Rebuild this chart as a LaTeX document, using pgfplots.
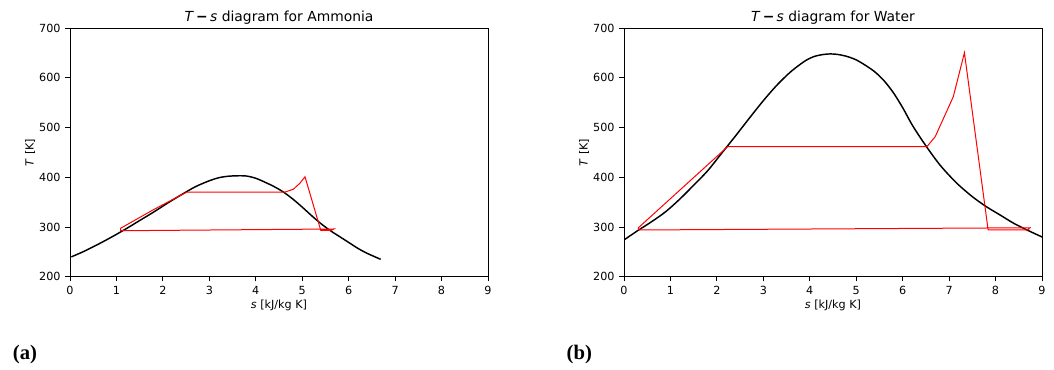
\documentclass[border=0pt]{standalone}
\usepackage{fontspec}
\setmainfont{DejaVu Sans}
\newfontfamily\capfont{Liberation Serif}
\usepackage{pgfplots}
\pgfplotsset{compat=1.18}
\pgfplotsset{ts/.style={
  scale only axis, width=313.5pt, height=186.5pt,
  xmin=0, xmax=9, ymin=200, ymax=700,
  xtick={0,1,...,9}, ytick={200,300,...,700},
  tick pos=left, tick align=outside, major tick length=3.5pt,
  /pgf/number format/assume math mode=true,
  ticklabel style={font=\fontsize{8.4}{9.5}\selectfont},
  xlabel style={font=\fontsize{8.4}{9.5}\selectfont, at={(axis description cs:0.5,-0.1137)}, anchor=center},
  ylabel style={font=\fontsize{8.4}{9.5}\selectfont, at={(axis description cs:-0.0957,0.5)}, anchor=center},
  title style={font=\fontsize{10.4}{12}\selectfont, at={(axis description cs:0.5,1.0504)}, anchor=center, yshift=-7.9pt},
  xlabel={\textit{s} [kJ/kg K]}, ylabel={\textit{T} [K]},
  axis line style={line width=0.6pt},
  every tick/.style={black, line width=0.6pt},
  anchor=south west,
  blk/.style={black, line width=1.1pt, smooth},
  rd/.style={red, line width=0.75pt},
}}
\begin{document}
\begin{tikzpicture}
\useasboundingbox (0,0) rectangle (790.5pt,276.75pt);
\begin{axis}[ts, at={(52.5pt,69.2pt)}, title={\textit{T}\,\textbf{−}\,\textit{s} diagram for Ammonia}]
\addplot[blk] coordinates {(0.03,240) (0.3,251) (0.6,265) (0.9,280) (1.2,296) (1.5,313) (1.8,330) (2.1,348) (2.4,365) (2.7,381) (3.0,393) (3.2,399) (3.4,402) (3.6,403) (3.8,402.5) (4.0,398) (4.2,390) (4.4,381) (4.6,370) (4.8,356) (5.0,340) (5.2,323) (5.4,307) (5.6,293) (5.8,281) (6.0,269) (6.2,257) (6.4,247) (6.69,235)};
\addplot[rd] coordinates {(1.09,297.5) (1.8,335) (2.51,370) (4.62,370) (4.81,376) (4.95,388) (5.06,401) (5.40,293) (5.62,293) (5.68,296) (1.09,292.5) (1.09,297.5)};
\end{axis}
\begin{axis}[ts, at={(468pt,69.2pt)}, title={\textit{T}\,\textbf{−}\,\textit{s} diagram for Water}]
\addplot[blk] coordinates {(0,274) (0.3,293) (0.6,311) (0.9,331) (1.2,356) (1.5,384) (1.8,413) (2.1,448) (2.4,483) (2.7,519) (3.0,554) (3.3,586) (3.6,613) (3.9,634) (4.1,643) (4.3,647) (4.45,648) (4.6,647) (4.8,643) (5.0,636) (5.2,625) (5.4,612) (5.6,594) (5.8,570) (6.0,540) (6.2,506) (6.4,477) (6.6,450) (6.8,425) (7.0,404) (7.2,385) (7.5,361) (7.8,341) (8.1,324) (8.4,307) (8.7,293) (9.0,280)};
\addplot[rd] coordinates {(0.31,298.5) (2.23,461.4) (6.52,461.4) (6.70,481.5) (7.09,562) (7.33,650.4) (7.84,294) (8.70,294) (8.74,298.5) (0.31,294) (0.31,298.5)};
\end{axis}
\node[font=\capfont\fontsize{15.5}{17}\selectfont\bfseries] at (18.75pt,10.5pt) {(a)};
\node[font=\capfont\fontsize{15.5}{17}\selectfont\bfseries] at (434.5pt,10.5pt) {(b)};
\end{tikzpicture}
\end{document}
